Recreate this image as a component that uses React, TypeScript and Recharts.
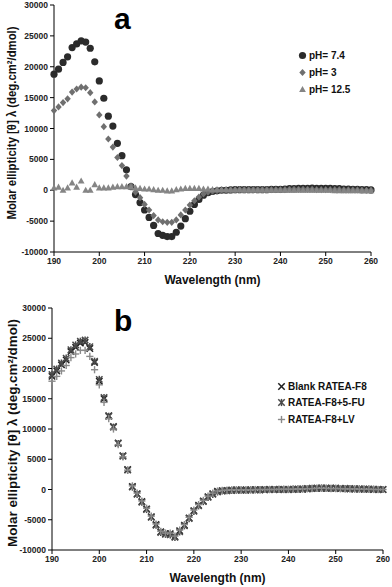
import React from 'react';
import { ScatterChart, Scatter, XAxis, YAxis, Legend } from 'recharts';

const FONT = '"Liberation Sans", Arial, Helvetica, sans-serif';

// wavelength grid (nm)
const wavelength = [
  190, 191, 192, 193, 194, 195, 196, 197, 198, 199,
  200, 201, 202, 203, 204, 205, 206, 207, 208, 209,
  210, 211, 212, 213, 214, 215, 216, 217, 218, 219,
  220, 221, 222, 223, 224, 225, 226, 227, 228, 229,
  230, 231, 232, 233, 234, 235, 236, 237, 238, 239,
  240, 241, 242, 243, 244, 245, 246, 247, 248, 249,
  250, 251, 252, 253, 254, 255, 256, 257, 258, 259,
  260,
];

const xTicks = [190, 200, 210, 220, 230, 240, 250, 260];
const yTicks = [-10000, -5000, 0, 5000, 10000, 15000, 20000, 25000, 30000];

// panel a
const ph74 = [
  18800, 19600, 20700, 21600, 23100, 23700, 24200, 24000, 23000, 20800,
  17700, 14900, 12000, 10400, 7600, 5600, 3300, 600, -700, -2000,
  -3200, -4400, -5700, -7000, -7300, -7500, -7500, -6800, -5800, -4600,
  -3400, -2300, -1500, -800, -400, -200, -100, 0, 0, 50,
  100, 100, 100, 100, 100, 100, 100, 100, 150, 150,
  150, 200, 250, 250, 300, 300, 300, 350, 300, 300,
  300, 300, 250, 250, 200, 200, 150, 150, 100, 100,
  50,
];
const ph3 = [
  12900, 13500, 14200, 14800, 15900, 16400, 16700, 16600, 15800, 14300,
  12200, 10300, 8300, 7000, 5300, 4000, 2300, 700, -300, -1200,
  -2300, -3200, -4100, -4800, -5100, -5200, -5200, -4800, -4000, -3200,
  -2400, -1700, -1100, -600, -300, -150, -50, 0, 0, 50,
  50, 100, 100, 100, 100, 100, 100, 100, 100, 100,
  100, 100, 150, 150, 150, 150, 150, 150, 100, 100,
  100, 100, 100, 100, 50, 50, 50, 50, 0, 0,
  0,
];
const ph125 = [
  400, 500, 0, 400, 1200, 500, 1500, 0, 0, 900,
  400, 400, 400, 500, 600, 600, 600, 500, 400, 300,
  200, 200, 100, 0, 0, -100, -100, 100, 200, 300,
  300, 300, 300, 200, 200, 100, 100, 100, 100, 50,
  50, 50, 0, 0, 0, 0, 0, 0, 0, 0,
  0, 0, 0, 0, 0, 0, 0, 0, 0, 0,
  0, 0, -50, -50, -50, -50, -50, -50, -50, -50,
  -50,
];

// panel b
const blank = [
  18700, 19600, 20600, 21400, 22800, 23500, 24200, 24300, 23300, 21000,
  17900, 15000, 12200, 10400, 7700, 5600, 3300, 500, -700, -2000,
  -3200, -4500, -5800, -7000, -7300, -7300, -7800, -6800, -5900, -4700,
  -3500, -2600, -1900, -1200, -700, -300, -200, -150, -100, -100,
  -100, -100, -100, -50, -50, -50, 0, 0, 0, 0,
  0, 0, 50, 50, 100, 150, 200, 200, 200, 200,
  200, 150, 150, 100, 100, 100, 50, 50, 0, 0,
  0,
];
const fu = [
  19000, 19900, 20900, 21700, 23100, 23900, 24500, 24700, 23600, 21200,
  18200, 15200, 12100, 10300, 7600, 5500, 3200, 400, -800, -2100,
  -3300, -4600, -5900, -7100, -7400, -7500, -7900, -7000, -6000, -4800,
  -3600, -2700, -2000, -1300, -800, -400, -250, -200, -150, -100,
  -100, -100, -50, -50, -50, 0, 0, 0, 0, 0,
  0, 50, 50, 100, 150, 200, 200, 250, 200, 200,
  200, 150, 150, 150, 100, 100, 50, 50, 50, 0,
  0,
];
const lv = [
  17900, 18700, 19600, 20500, 21800, 22400, 23000, 23000, 22000, 19800,
  17300, 14400, 11700, 10000, 7400, 5400, 3200, 600, -600, -1900,
  -3100, -4400, -5700, -6900, -7200, -7200, -7700, -6700, -5800, -4600,
  -3400, -2500, -1800, -1100, -600, -250, -150, -100, -50, -50,
  -50, -50, -50, 0, 0, 0, 0, 0, 50, 50,
  50, 50, 100, 100, 150, 150, 200, 200, 200, 150,
  150, 150, 100, 100, 100, 50, 50, 50, 0, 0,
  0,
];

const toPoints = (vals: number[]) => wavelength.map((w, i) => ({ w, v: vals[i] }));

// marker glyphs
const circleShape = (color: string) => (p: any) => <circle cx={p.cx} cy={p.cy} r={3.6} fill={color} />;
const diamondShape = (color: string) => (p: any) => (
  <polygon points={`${p.cx},${p.cy - 3.6} ${p.cx + 3.2},${p.cy} ${p.cx},${p.cy + 3.6} ${p.cx - 3.2},${p.cy}`} fill={color} />
);
const triangleShape = (color: string) => (p: any) => (
  <polygon points={`${p.cx},${p.cy - 3.6} ${p.cx + 3.4},${p.cy + 2.6} ${p.cx - 3.4},${p.cy + 2.6}`} fill={color} />
);
const xShape = (color: string) => (p: any) => (
  <g stroke={color} strokeWidth={1.5}>
    <line x1={p.cx - 3.2} y1={p.cy - 3.2} x2={p.cx + 3.2} y2={p.cy + 3.2} />
    <line x1={p.cx - 3.2} y1={p.cy + 3.2} x2={p.cx + 3.2} y2={p.cy - 3.2} />
  </g>
);
const starShape = (color: string) => (p: any) => (
  <g stroke={color} strokeWidth={1.5}>
    <line x1={p.cx - 3.2} y1={p.cy - 3.2} x2={p.cx + 3.2} y2={p.cy + 3.2} />
    <line x1={p.cx - 3.2} y1={p.cy + 3.2} x2={p.cx + 3.2} y2={p.cy - 3.2} />
    <line x1={p.cx} y1={p.cy - 3.6} x2={p.cx} y2={p.cy + 3.6} />
  </g>
);
const plusShape = (color: string) => (p: any) => (
  <g stroke={color} strokeWidth={1.4}>
    <line x1={p.cx - 3.6} y1={p.cy} x2={p.cx + 3.6} y2={p.cy} />
    <line x1={p.cx} y1={p.cy - 3.6} x2={p.cx} y2={p.cy + 3.6} />
  </g>
);

const seriesA = [
  { name: 'pH= 7.4', values: ph74, color: '#2b2b2b', shape: circleShape },
  { name: 'pH= 3', values: ph3, color: '#6f6f6f', shape: diamondShape },
  { name: 'pH= 12.5', values: ph125, color: '#858585', shape: triangleShape },
];
const seriesB = [
  { name: 'Blank RATEA-F8', values: blank, color: '#1f1f1f', shape: xShape },
  { name: 'RATEA-F8+5-FU', values: fu, color: '#4a4a4a', shape: starShape },
  { name: 'RATEA-F8+LV', values: lv, color: '#8a8a8a', shape: plusShape },
];

const makeLegend = (series: typeof seriesA, rowH: number) => () => (
  <div style={{ fontFamily: FONT, fontSize: 10, fontWeight: 'bold', color: '#111' }}>
    {series.map((s) => (
      <div key={s.name} style={{ display: 'flex', alignItems: 'center', height: rowH, whiteSpace: 'nowrap' }}>
        <svg width={9} height={9} style={{ marginRight: 2 }}>
          {s.shape(s.color)({ cx: 4.5, cy: 4.5 })}
        </svg>
        <span>{s.name}</span>
      </div>
    ))}
  </div>
);

const makeYLabel = (cy: number, len: number, size: number) => () => (
  <text
    x={12}
    y={cy}
    transform={`rotate(-90, 12, ${cy})`}
    textAnchor="middle"
    dominantBaseline="central"
    textLength={len}
    lengthAdjust="spacingAndGlyphs"
    style={{ fontFamily: FONT, fontSize: size, fontWeight: 'bold', fill: '#111' }}
  >
    Molar ellipticity [θ] λ (deg.cm²/dmol)
  </text>
);

const tickStyle = { fontFamily: FONT, fontSize: 8.5, fontWeight: 'bold', fill: '#222' };

interface PanelProps {
  series: typeof seriesA;
  height: number;
  margin: { top: number; right: number; bottom: number; left: number };
  yWidth: number;
  legend: () => React.ReactElement;
  legendPos: { left: number; top: number };
  yLabel: () => React.ReactElement;
}

const Panel: React.FC<PanelProps> = ({ series, height, margin, yWidth, legend, legendPos, yLabel }) => (
  <ScatterChart width={392} height={height} margin={margin}>
    <XAxis
      type="number"
      dataKey="w"
      domain={[190, 260]}
      ticks={xTicks}
      height={32}
      tick={tickStyle}
      stroke="#000"
      tickSize={4}
      label={{
        value: 'Wavelength (nm)',
        position: 'insideBottom',
        offset: 0,
        style: { fontFamily: FONT, fontSize: 12, fontWeight: 'bold', fill: '#111' },
      }}
    />
    <YAxis
      type="number"
      dataKey="v"
      domain={[-10000, 30000]}
      ticks={yTicks}
      width={yWidth}
      tick={tickStyle}
      stroke="#000"
      tickSize={4}
      label={yLabel}
    />
    <Legend
      content={legend}
      layout="horizontal"
      verticalAlign="middle"
      align="center"
      wrapperStyle={{ left: legendPos.left, top: legendPos.top, width: 'auto' }}
    />
    {series.map((s) => (
      <Scatter
        key={s.name}
        name={s.name}
        data={toPoints(s.values)}
        fill={s.color}
        shape={s.shape(s.color)}
        isAnimationActive={false}
      />
    ))}
  </ScatterChart>
);

const App: React.FC = () => (
  <div style={{ position: 'absolute', left: 0, top: 0, width: 392, height: 587, background: '#fff', fontFamily: FONT }}>
    <div style={{ position: 'absolute', left: 0, top: 0 }}>
      <Panel
        series={seriesA}
        height={290}
        margin={{ top: 5, right: 21, bottom: 6, left: 8 }}
        yWidth={46}
        legend={makeLegend(seriesA, 17)}
        legendPos={{ left: 298, top: 47 }}
        yLabel={makeYLabel(123, 193, 12.5)}
      />
    </div>
    <div style={{ position: 'absolute', left: 0, top: 295 }}>
      <Panel
        series={seriesB}
        height={292}
        margin={{ top: 13, right: 9, bottom: 5, left: 8 }}
        yWidth={44}
        legend={makeLegend(seriesB, 16.5)}
        legendPos={{ left: 277, top: 83 }}
        yLabel={makeYLabel(138, 228, 13.5)}
      />
    </div>
    <div style={{ position: 'absolute', left: 114, top: 4, fontSize: 30, fontWeight: 'bold', lineHeight: '30px' }}>a</div>
    <div style={{ position: 'absolute', left: 114, top: 306, fontSize: 30, fontWeight: 'bold', lineHeight: '30px' }}>b</div>
  </div>
);

export default App;
